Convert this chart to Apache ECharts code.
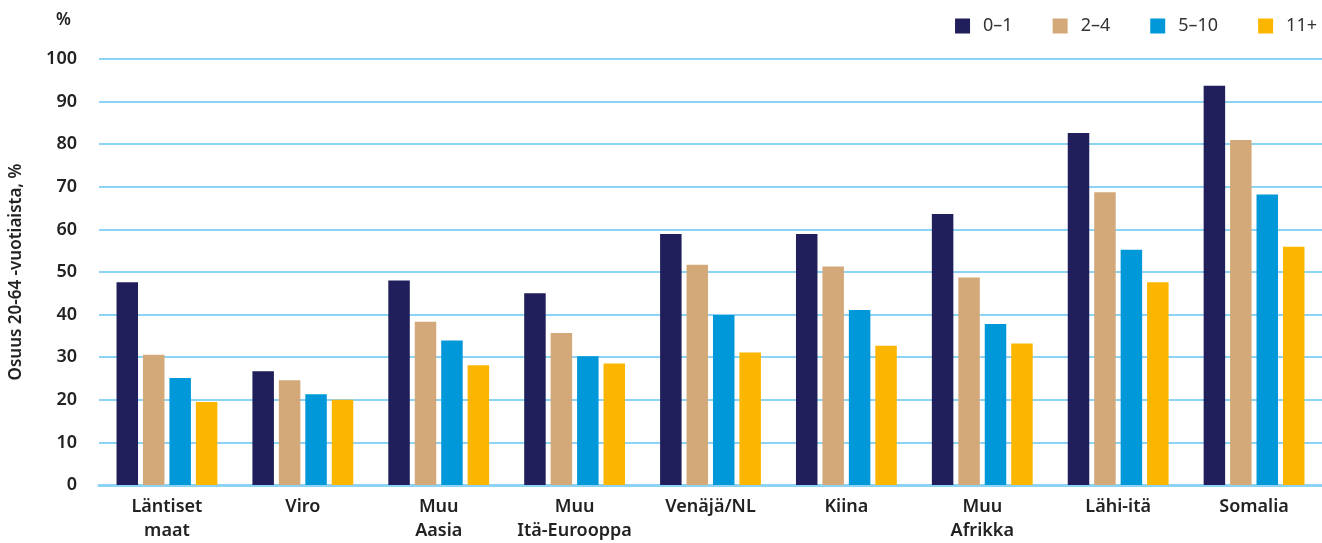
<!DOCTYPE html>
<html><head><meta charset="utf-8">
<script src="https://cdn.jsdelivr.net/npm/echarts@6/dist/echarts.min.js"></script>
<style>html,body{margin:0;padding:0;background:#fff}#c{width:1322px;height:543px}</style>
</head><body><div id="c"></div>
<script>
var categories = ['Läntiset\nmaat', 'Viro', 'Muu\nAasia', 'Muu\nItä-Eurooppa', 'Venäjä/NL', 'Kiina', 'Muu\nAfrikka', 'Lähi-itä', 'Somalia'];
var seriesNames = ['0–1', '2–4', '5–10', '11+'];
var s0_1 = [47.6, 26.7, 48.0, 45.0, 58.9, 58.9, 63.6, 82.6, 93.7];
var s2_4 = [30.6, 24.6, 38.3, 35.7, 51.7, 51.3, 48.7, 68.7, 81.0];
var s5_10 = [25.1, 21.3, 33.9, 30.2, 39.9, 41.1, 37.8, 55.2, 68.2];
var s11 = [19.5, 20.0, 28.1, 28.5, 31.1, 32.7, 33.2, 47.6, 55.9];
var yTicks = [0, 100, 10];

var colors = ['#201f5b', '#d4a97a', '#0098d9', '#fdb600'];
var font = 'Noto Sans';
var data = [s0_1, s2_4, s5_10, s11];
var chart = echarts.init(document.getElementById('c'), null, {renderer: 'canvas'});
chart.setOption({
  animation: false,
  textStyle: {fontFamily: font},
  grid: {left: 92, right: -1, top: 59, bottom: 53, containLabel: false},
  legend: {
    right: 0, top: 12, itemWidth: 15, itemHeight: 15, itemGap: 40,
    icon: 'rect',
    textStyle: {fontSize: 18, color: '#333', fontFamily: font, padding: [0, 0, 0, 8]},
    data: seriesNames
  },
  graphic: [{
    type: 'text', left: 56, top: 12,
    style: {text: '%', fontSize: 17, fontWeight: 600, fill: '#222', fontFamily: font}
  }],
  xAxis: {
    type: 'category', data: categories,
    axisLine: {show: true, lineStyle: {color: '#8dd3f5', width: 3}},
    axisTick: {show: false},
    axisLabel: {fontSize: 18, fontWeight: 600, color: '#222', lineHeight: 24, margin: 10, interval: 0, fontFamily: font}
  },
  yAxis: {
    type: 'value', min: yTicks[0], max: yTicks[1], interval: yTicks[2],
    name: 'Osuus 20-64 -vuotiaista, %', nameLocation: 'middle', nameGap: 74, nameRotate: 90,
    nameTextStyle: {fontSize: 17, fontWeight: 600, color: '#222', fontFamily: font},
    axisLine: {show: false}, axisTick: {show: false},
    axisLabel: {fontSize: 18, fontWeight: 600, color: '#222', margin: 22, fontFamily: font},
    splitLine: {lineStyle: {color: '#8dd3f5', width: 2}}
  },
  series: seriesNames.map(function (n, i) {
    return {
      name: n, type: 'bar', data: data[i], barWidth: 21.5, barGap: '23%',
      itemStyle: {color: colors[i]}
    };
  })
});
</script></body></html>
